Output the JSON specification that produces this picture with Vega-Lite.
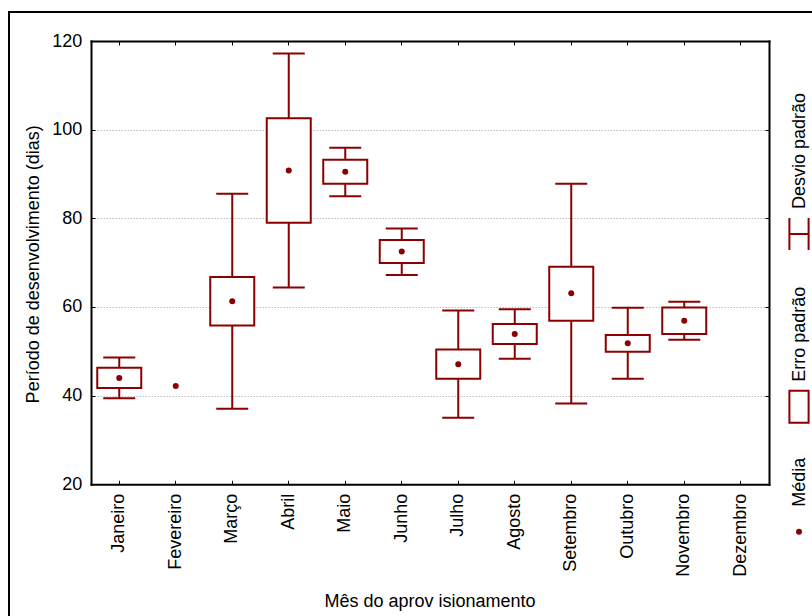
{
  "$schema": "https://vega.github.io/schema/vega-lite/v6.json",
  "width": 805,
  "height": 606,
  "autosize": "none",
  "padding": {"left": 9, "top": 12, "right": -2, "bottom": -2},
  "background": "white",
  "config": {
    "font": "Liberation Sans",
    "view": {"stroke": "black", "strokeWidth": 2, "strokeCap": "square"},
    "axis": {
      "labelFont": "Liberation Sans",
      "labelFontSize": 18,
      "labelColor": "black",
      "titleFont": "Liberation Sans",
      "titleFontSize": 18,
      "titleFontWeight": "normal",
      "titleColor": "black",
      "tickColor": "black",
      "tickWidth": 1,
      "domainColor": "black",
      "domainWidth": 2,
      "domainCap": "square"
    }
  },
  "datasets": {
    "meses": [
      {"mes": "Janeiro", "media": 44.0, "ep_min": 41.7, "ep_max": 46.3, "dp_min": 39.4, "dp_max": 48.6},
      {"mes": "Fevereiro", "media": 42.2, "ep_min": null, "ep_max": null, "dp_min": null, "dp_max": null},
      {"mes": "Março", "media": 61.3, "ep_min": 55.85, "ep_max": 66.75, "dp_min": 37.05, "dp_max": 85.55},
      {"mes": "Abril", "media": 90.8, "ep_min": 79.0, "ep_max": 102.6, "dp_min": 64.4, "dp_max": 117.2},
      {"mes": "Maio", "media": 90.5, "ep_min": 87.8, "ep_max": 93.2, "dp_min": 85.0, "dp_max": 95.9},
      {"mes": "Junho", "media": 72.5, "ep_min": 69.9, "ep_max": 75.1, "dp_min": 67.2, "dp_max": 77.7},
      {"mes": "Julho", "media": 47.1, "ep_min": 43.8, "ep_max": 50.4, "dp_min": 35.0, "dp_max": 59.2},
      {"mes": "Agosto", "media": 53.9, "ep_min": 51.65, "ep_max": 56.15, "dp_min": 48.3, "dp_max": 59.5},
      {"mes": "Setembro", "media": 63.1, "ep_min": 56.9, "ep_max": 69.1, "dp_min": 38.2, "dp_max": 87.8},
      {"mes": "Outubro", "media": 51.8, "ep_min": 49.9, "ep_max": 53.7, "dp_min": 43.8, "dp_max": 59.8},
      {"mes": "Novembro", "media": 56.9, "ep_min": 53.9, "ep_max": 59.9, "dp_min": 52.6, "dp_max": 61.2},
      {"mes": "Dezembro", "media": null, "ep_min": null, "ep_max": null, "dp_min": null, "dp_max": null}
    ],
    "legenda": [
      {"item": "Média", "ordem": 1},
      {"item": "Erro padrão", "ordem": 2},
      {"item": "Desvio padrão", "ordem": 3}
    ]
  },
  "layer": [
    {
      "data": {"name": "meses"},
      "layer": [
        {
          "mark": {"type": "rule", "color": "#8b0000", "strokeWidth": 2},
          "encoding": {
            "x": {
              "field": "mes", "type": "nominal",
              "scale": {"type": "band", "domain": ["Janeiro", "Fevereiro", "Março", "Abril", "Maio", "Junho", "Julho", "Agosto", "Setembro", "Outubro", "Novembro", "Dezembro"], "range": [82, 760], "paddingInner": 0, "paddingOuter": 0},
              "axis": {
                "orient": "bottom", "offset": -133.7,
                "ticks": false, "tickSize": 0,
                "labelAngle": 270, "labelAlign": "right", "labelBaseline": "middle", "labelPadding": 9, "labelOverlap": false,
                "domain": true, "grid": false,
                "title": "Mês do aprov isionamento",
                "titleX": 420.5, "titleY": 122.2, "titleAlign": "center", "titleBaseline": "alphabetic", "titleAngle": 0
              }
            },
            "y": {
              "field": "dp_min", "type": "quantitative",
              "scale": {"domain": [20, 120], "range": [472.3, 29], "nice": false, "zero": false},
              "axis": {
                "orient": "left", "offset": -82,
                "values": [20, 40, 60, 80, 100, 120],
                "ticks": false, "tickSize": 0,
                "labelPadding": 9.3, "labelBaseline": "middle", "labelFlush": false,
                "domain": true,
                "grid": true, "gridColor": "#bdbdbd", "gridDash": [1.5, 1.5], "gridWidth": 1,
                "title": "Período de desenvolvimento (dias)",
                "titleAngle": 270, "titleX": -52.7, "titleY": 251.8, "titleAlign": "center", "titleBaseline": "alphabetic"
              }
            },
            "y2": {"field": "dp_max"}
          }
        },
        {
          "mark": {"type": "bar", "width": 44, "fill": "white", "stroke": "#8b0000", "strokeWidth": 2},
          "encoding": {
            "x": {
              "field": "mes", "type": "nominal",
              "scale": {"type": "band", "domain": ["Janeiro", "Fevereiro", "Março", "Abril", "Maio", "Junho", "Julho", "Agosto", "Setembro", "Outubro", "Novembro", "Dezembro"], "range": [82, 760], "paddingInner": 0, "paddingOuter": 0},
              "axis": null
            },
            "y": {
              "field": "ep_min", "type": "quantitative",
              "scale": {"domain": [20, 120], "range": [472.3, 29], "nice": false, "zero": false},
              "axis": null
            },
            "y2": {"field": "ep_max"}
          }
        },
        {
          "mark": {"type": "tick", "color": "#8b0000", "size": 32, "thickness": 2, "opacity": 1},
          "encoding": {
            "x": {
              "field": "mes", "type": "nominal",
              "scale": {"type": "band", "domain": ["Janeiro", "Fevereiro", "Março", "Abril", "Maio", "Junho", "Julho", "Agosto", "Setembro", "Outubro", "Novembro", "Dezembro"], "range": [82, 760], "paddingInner": 0, "paddingOuter": 0},
              "axis": {
                "orient": "top", "offset": -472.3,
                "ticks": true, "tickSize": 4, "labels": false, "domain": false, "grid": false, "title": null
              }
            },
            "y": {
              "field": "dp_min", "type": "quantitative",
              "scale": {"domain": [20, 120], "range": [472.3, 29], "nice": false, "zero": false},
              "axis": {
                "orient": "right", "offset": -723,
                "values": [20, 40, 60, 80, 100, 120],
                "ticks": true, "tickSize": 4, "labels": false, "domain": false, "grid": false, "title": null
              }
            }
          }
        },
        {
          "mark": {"type": "tick", "color": "#8b0000", "size": 32, "thickness": 2, "opacity": 1},
          "encoding": {
            "x": {
              "field": "mes", "type": "nominal",
              "scale": {"type": "band", "domain": ["Janeiro", "Fevereiro", "Março", "Abril", "Maio", "Junho", "Julho", "Agosto", "Setembro", "Outubro", "Novembro", "Dezembro"], "range": [82, 760], "paddingInner": 0, "paddingOuter": 0},
              "axis": {
                "orient": "bottom", "offset": -577,
                "ticks": true, "tickSize": 4, "labels": false, "domain": true, "grid": false, "title": null
              }
            },
            "y": {
              "field": "dp_max", "type": "quantitative",
              "scale": {"domain": [20, 120], "range": [472.3, 29], "nice": false, "zero": false},
              "axis": {
                "orient": "left", "offset": -760,
                "values": [20, 40, 60, 80, 100, 120],
                "ticks": true, "tickSize": 4, "labels": false, "domain": true, "grid": false, "title": null
              }
            }
          }
        },
        {
          "mark": {"type": "point", "shape": "circle", "filled": true, "size": 36, "color": "#8b0000", "opacity": 1},
          "encoding": {
            "x": {
              "field": "mes", "type": "nominal",
              "scale": {"type": "band", "domain": ["Janeiro", "Fevereiro", "Março", "Abril", "Maio", "Junho", "Julho", "Agosto", "Setembro", "Outubro", "Novembro", "Dezembro"], "range": [82, 760], "paddingInner": 0, "paddingOuter": 0},
              "axis": null
            },
            "y": {
              "field": "media", "type": "quantitative",
              "scale": {"domain": [20, 120], "range": [472.3, 29], "nice": false, "zero": false},
              "axis": null
            }
          }
        }
      ],
      "resolve": {"axis": {"x": "independent", "y": "independent"}}
    },
    {
      "data": {"name": "legenda"},
      "encoding": {
        "x": {"datum": 0, "type": "quantitative", "scale": {"domain": [0, 1], "range": [790, 800]}, "axis": null},
        "y": {"field": "ordem", "type": "quantitative", "scale": {"domain": [1, 2, 3], "range": [519.7, 394.7, 222], "nice": false, "zero": false}, "axis": null}
      },
      "layer": [
        {
          "mark": {"type": "text", "angle": 270, "align": "left", "baseline": "alphabetic", "dx": 25, "dy": 6, "font": "Liberation Sans", "fontSize": 18, "color": "black"},
          "encoding": {"text": {"field": "item"}}
        },
        {
          "transform": [{"filter": "datum.item === 'Média'"}],
          "mark": {"type": "point", "shape": "circle", "filled": true, "size": 36, "color": "#8b0000", "opacity": 1}
        },
        {
          "transform": [{"filter": "datum.item === 'Erro padrão'"}],
          "mark": {"type": "point", "shape": "M-0.6,-1H0.6V1H-0.6Z", "filled": false, "size": 1024, "stroke": "#8b0000", "strokeWidth": 2, "opacity": 1}
        },
        {
          "transform": [{"filter": "datum.item === 'Desvio padrão'"}],
          "mark": {"type": "point", "shape": "M-0.6,-1V1M0.6,-1V1M-0.6,0H0.6", "filled": false, "size": 1024, "stroke": "#8b0000", "strokeWidth": 2, "opacity": 1}
        }
      ]
    }
  ],
  "resolve": {"scale": {"x": "independent", "y": "independent"}}
}
